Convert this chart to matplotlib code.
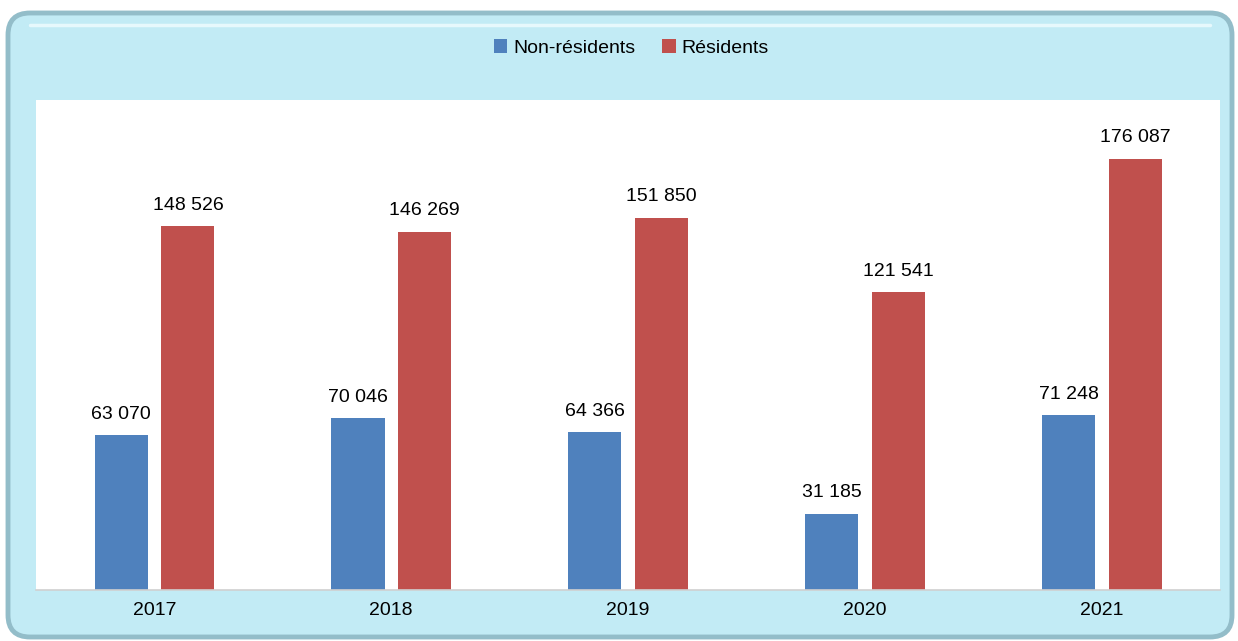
import matplotlib.pyplot as plt
import numpy as np
from matplotlib.patches import FancyBboxPatch

plt.rcParams['font.family'] = ['Liberation Sans', 'DejaVu Sans']

# Données
annees = ['2017', '2018', '2019', '2020', '2021']
non_residents = [63070, 70046, 64366, 31185, 71248]
residents = [148526, 146269, 151850, 121541, 176087]

fig = plt.figure(figsize=(12.38, 6.41), dpi=100)

# Cadre arrondi bleu clair (dans un axe de fond)
fond = fig.add_axes([0, 0, 1, 1], zorder=0)
fond.set_xlim(0, 1238)
fond.set_ylim(0, 641)
fond.axis('off')
cadre = FancyBboxPatch((8, 4), 1224, 624,
                       boxstyle="round,pad=0,rounding_size=22",
                       facecolor='#C2EBF5', edgecolor='#93BDC9', linewidth=3.5)
fond.add_patch(cadre)
# léger reflet en haut
fond.plot([30, 1210], [616, 616], color='#E6F8FC', linewidth=2.5, solid_capstyle='round')

ax = fig.add_axes([0.029, 0.0796, 0.9565, 0.7644], zorder=1)
ax.set_facecolor('white')

x = np.arange(len(annees))
largeur = 0.224
b1 = ax.bar(x - 0.140, non_residents, largeur, color='#4F81BD', label='Non-résidents')
b2 = ax.bar(x + 0.142, residents, largeur, color='#C0504D', label='Résidents')

def fmt(v):
    return f"{v:,}".replace(',', ' ')

for barres, vals in [(b1, non_residents), (b2, residents)]:
    for b, v in zip(barres, vals):
        ax.annotate(fmt(v), (b.get_x() + b.get_width() / 2, v),
                    textcoords='offset points', xytext=(0, 9),
                    ha='center', va='bottom', fontsize=14)

ax.set_xlim(-0.5, len(annees) - 0.5)
ax.set_ylim(0, 200000)
ax.set_xticks(x)
ax.set_xticklabels(annees, fontsize=14)
ax.tick_params(axis='x', length=0, pad=9)
ax.set_yticks([])
for s in ['top', 'right', 'left']:
    ax.spines[s].set_visible(False)
ax.spines['bottom'].set_color('#D0D0D0')
ax.spines['bottom'].set_linewidth(1.2)

leg = fig.legend(loc='center', bbox_to_anchor=(0.51, 0.925), ncol=2, frameon=False,
                 fontsize=14, handlelength=0.7, handleheight=0.7, handletextpad=0.3,
                 columnspacing=1.4)
leg.set_zorder(2)

fig.savefig('out.png', dpi=100, facecolor='white')
